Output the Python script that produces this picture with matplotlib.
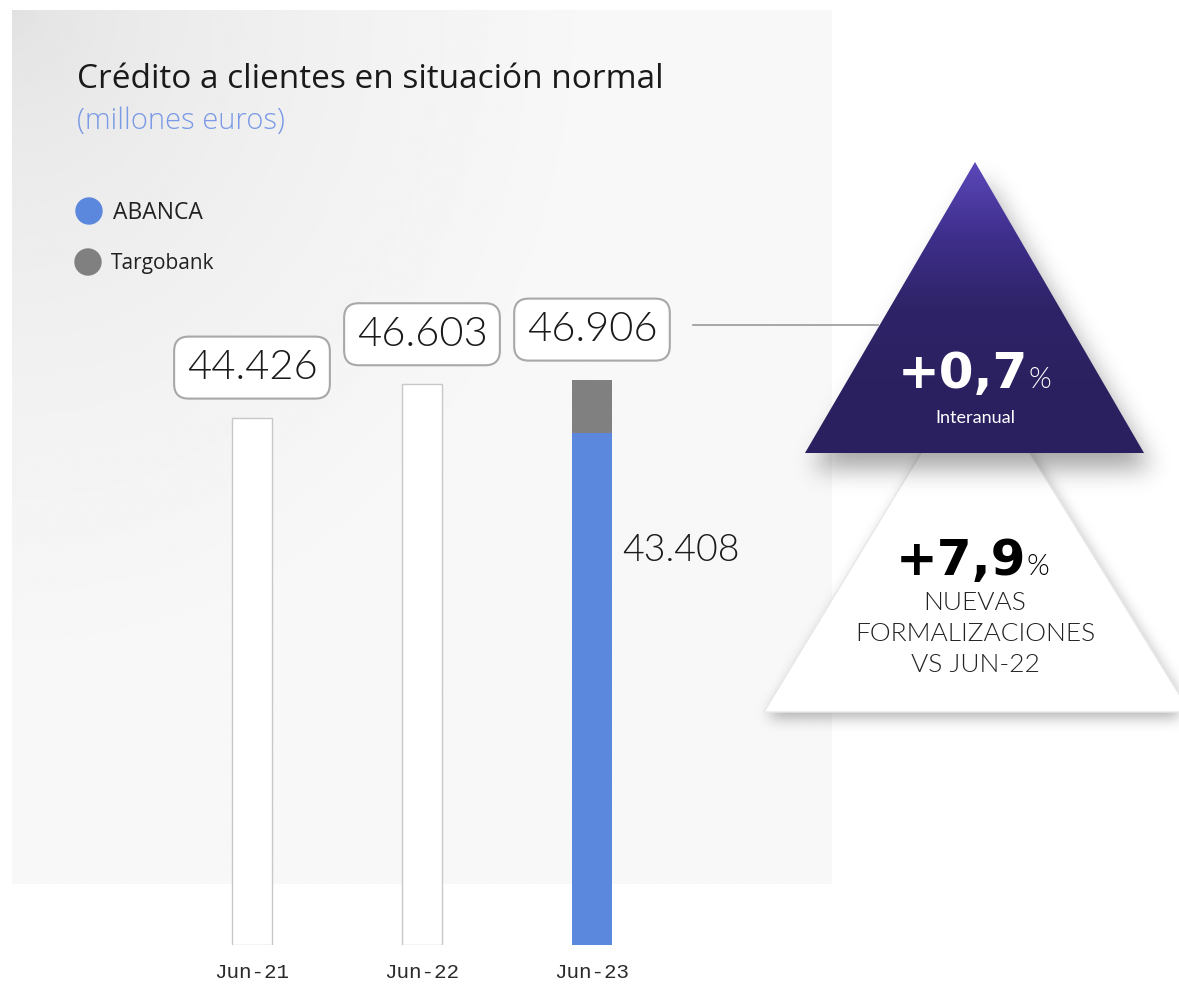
import numpy as np
import matplotlib.pyplot as plt
from matplotlib.patches import Polygon, Circle
from matplotlib.path import Path
from matplotlib.colors import LinearSegmentedColormap

# Data
periods = ['Jun-21', 'Jun-22', 'Jun-23']
totals = [44426, 46603, 46906]
abanca_jun23 = 43408
targobank_jun23 = totals[2] - abanca_jun23
interanual = '+0,7'
nuevas = '+7,9'

blue = '#5b87dc'
grey = '#808080'

fig = plt.figure(figsize=(11.79, 9.86), dpi=100)

# pixel-space layer for decorations
bg = fig.add_axes([0, 0, 1, 1])
bg.axis('off')

# light grey panel with a soft gradient
yy, xx = np.mgrid[0:1:300j, 0:1:300j]
d = np.sqrt((xx * 0.95) ** 2 + (yy * 0.9) ** 2)
shade = 224 + 24 * np.clip(d / 0.7, 0, 1) ** 0.55
bg.imshow(shade, cmap='gray', vmin=0, vmax=255, extent=(12, 832, 884, 10),
          aspect='auto', zorder=0, interpolation='bilinear')

bg.text(77, 80, 'Crédito a clientes en situación normal', fontsize=24,
        family='Open Sans', color='#1a1a1a', va='center')
bg.text(77, 121, '(millones euros)', fontsize=21, family='Open Sans',
        weight='light', color='#7a9ae6', va='center')

# legend
bg.add_patch(Circle((89, 211), 13, color=blue, zorder=2))
bg.text(113, 213, 'ABANCA', fontsize=16.5, family='Open Sans', va='center', color='#222222')
bg.add_patch(Circle((88, 262), 13, color=grey, zorder=2))
bg.text(111, 263, 'Targobank', fontsize=15, family='Open Sans', va='center', color='#222222')


# soft blurred shadow under a polygon
def shadow(pts, dx, dy, sigma, alpha, z):
    x0, x1, y0, y1 = 700, 1179, 120, 800
    X, Y = np.meshgrid(np.arange(x0, x1) + 0.5, np.arange(y0, y1) + 0.5)
    path = Path(np.array(pts, float) + [dx, dy])
    m = path.contains_points(np.c_[X.ravel(), Y.ravel()]).reshape(X.shape).astype(float)
    r = np.arange(-3 * sigma, 3 * sigma + 1)
    k = np.exp(-0.5 * (r / sigma) ** 2)
    k /= k.sum()
    m = np.apply_along_axis(lambda row: np.convolve(row, k, mode='same'), 1, m)
    m = np.apply_along_axis(lambda col: np.convolve(col, k, mode='same'), 0, m)
    rgba = np.zeros(m.shape + (4,))
    rgba[..., 3] = m * alpha
    bg.imshow(rgba, extent=(x0, x1, y1, y0), aspect='auto', zorder=z, interpolation='bilinear')


white_tri = [(975, 364), (1190, 712), (764, 712)]
shadow(white_tri, 3, 6, 7, 0.3, 3)
bg.add_patch(Polygon(white_tri, closed=True, fc='white', ec='#e8e8e8', lw=1, zorder=4))

purple_tri = [(975, 162), (1144, 453), (805, 453)]
shadow(purple_tri, 8, 16, 12, 0.35, 5)
clip = Polygon(purple_tri, closed=True, fc='none', ec='none', zorder=6)
bg.add_patch(clip)
grad = np.linspace(0, 1, 256).reshape(-1, 1)
pcmap = LinearSegmentedColormap.from_list('p', ['#5c48ba', '#3f2f8c', '#2f2368', '#2b2160', '#2a2060'])
im = bg.imshow(grad, cmap=pcmap, extent=(805, 1144, 453, 162), aspect='auto', zorder=6)
im.set_clip_path(clip)

# connector
bg.plot([693, 878], [325, 325], color='#9a9a9a', lw=1.2, zorder=5)

bg.text(1028, 388, interanual, fontsize=36, family='DejaVu Sans', weight='bold',
        color='white', ha='right', va='baseline', zorder=7)
bg.text(1028, 388, '%', fontsize=21, family='Lato', weight=300,
        color='white', ha='left', va='baseline', zorder=7)
bg.text(975, 418, 'Interanual', fontsize=13, family='Lato',
        color='white', ha='center', va='center', zorder=7)

bg.text(1026, 575, nuevas, fontsize=36, family='DejaVu Sans', weight='bold',
        color='black', ha='right', va='baseline', zorder=7)
bg.text(1026, 575, '%', fontsize=21, family='Lato', weight=300,
        color='black', ha='left', va='baseline', zorder=7)
for txt, y in [('NUEVAS', 603), ('FORMALIZACIONES', 634), ('VS JUN-22', 665)]:
    bg.text(975, y, txt, fontsize=19, family='Lato', weight=300,
            color='#222222', ha='center', va='center', zorder=7)

bg.set_xlim(0, 1179)
bg.set_ylim(986, 0)

# bar chart (value axis starts near 10.000)
ax = fig.add_axes([167 / 1179, 41 / 986, 510 / 1179, 842 / 986])
ax.patch.set_alpha(0)
base = 10000
x = np.arange(len(periods))
ax.bar(x[:2], np.array(totals[:2]) - base, bottom=base, width=0.24, color='white',
       edgecolor='#c8c8c8', lw=1, zorder=3)
ax.bar(x[2], abanca_jun23 - base, bottom=base, width=0.24, color=blue, zorder=3)
ax.bar(x[2], targobank_jun23, bottom=abanca_jun23, width=0.24, color=grey, zorder=3)

for i, v in enumerate(totals):
    ax.annotate(f'{v:,}'.replace(',', '.'), (x[i], v), xytext=(0, 36),
                textcoords='offset points', ha='center', va='center',
                fontsize=30, family='Lato', weight=300, color='#1a1a1a', zorder=5,
                bbox=dict(boxstyle='round,pad=0.3,rounding_size=0.35', fc='white',
                          ec='#a8a8a8', lw=1.5))

ax.text(x[2] + 0.18, base + (abanca_jun23 - base) * 0.77, f'{abanca_jun23:,}'.replace(',', '.'),
        fontsize=27, family='Lato', weight=300, color='#1a1a1a', va='center')

ax.set_xlim(-0.5, 2.5)
ax.set_ylim(base, base + 842 / 0.01532)
ax.set_xticks(x, periods, family='Liberation Mono', fontsize=15, color='#2a2a2a')
ax.tick_params(axis='x', length=0, pad=13)
ax.set_yticks([])
for s in ax.spines.values():
    s.set_visible(False)

fig.savefig('out.png', dpi=100)
